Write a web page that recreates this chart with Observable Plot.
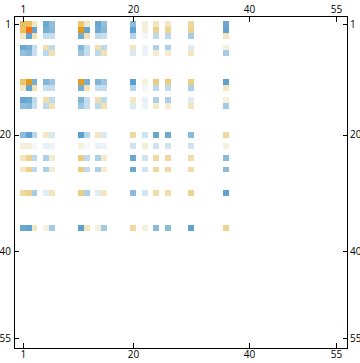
<!DOCTYPE html>
<html>
<head>
<meta charset="utf-8">
<script src="https://cdn.jsdelivr.net/npm/d3@7"></script>
<script src="https://cdn.jsdelivr.net/npm/@observablehq/plot@0.6"></script>
<style>html,body{margin:0;padding:0;background:#fff}svg{display:block}</style>
</head>
<body>
<div id="chart"></div>
<script>
const tickLabels = [1, 20, 40, 55];
const indices = [1, 2, 3, 5, 6, 11, 12, 14, 15, 20, 22, 24, 26, 30, 36];
const row1  = [.40,.38,.09,-.40,-.28,.34,.09,-.42,-.28,-.30,.04,.11,.10,.20,-.40];
const row2  = [.38,1,-.44,-.36,-.31,.60,-.43,-.39,-.31,-.46,.04,.26,.26,.25,-.46];
const row3  = [.09,-.44,.14,-.15,-.14,-.37,.14,-.16,-.14,-.20,-.02,-.17,-.17,-.23,.10];
const row5  = [-.40,-.36,-.15,.16,-.17,-.32,-.145,.16,-.17,.10,-.05,-.22,-.22,-.065,.03];
const row6  = [-.28,-.31,-.14,-.17,.14,-.26,-.145,-.17,.14,-.085,-.04,.07,.055,.11,-.24];
const row11 = [.34,.60,-.37,-.32,-.26,.58,-.36,-.33,-.26,-.50,.03,.30,.30,.29,-.48];
const row12 = [.09,-.43,.14,-.145,-.145,-.36,.13,-.145,-.145,-.20,-.02,-.17,-.16,-.22,.10];
const row14 = [-.42,-.39,-.16,.16,-.17,-.33,-.145,.16,-.17,.10,-.05,-.22,-.22,-.065,.03];
const row15 = [-.28,-.31,-.14,-.17,.14,-.26,-.145,-.17,.14,-.085,-.04,.07,.055,.11,-.24];
const row20 = [-.30,-.46,-.20,.10,-.085,-.50,-.20,.10,-.085,.20,-.12,-.40,-.40,-.30,.20];
const row22 = [.04,.04,-.02,-.05,-.04,.03,-.02,-.05,-.04,-.12,.05,-.11,-.11,-.10,.03];
const row24 = [.11,.26,-.17,-.22,.07,.30,-.17,-.22,.07,-.40,-.11,.20,.20,.17,-.30];
const row26 = [.10,.26,-.17,-.22,.055,.30,-.16,-.22,.055,-.40,-.11,.20,.20,.17,-.30];
const row30 = [.20,.25,-.23,-.065,.11,.29,-.22,-.065,.11,-.30,-.10,.17,.17,.24,-.46];
const row36 = [-.40,-.46,.10,.03,-.24,-.48,.10,.03,-.24,.20,.03,-.30,-.30,-.46,.24];
const rows = [row1,row2,row3,row5,row6,row11,row12,row14,row15,row20,row22,row24,row26,row30,row36];

const colorDomain = [-.5,-.4,-.3,-.2,-.1,-.02,0,.03,.1,.2,.3,.4,.6,1];
const colorRange = ["#5b9ed0","#6ba8d0","#8abbd9","#b4d5ea","#d3e5f2","#f4f8fb","#f8f8f4","#f5f1dc","#f3e6c0","#efd9a0","#eccd80","#e8bb5b","#e39a1a","#fc6d0f"];

const cells = rows.flatMap((r, i) => r.map((v, j) => ({row: indices[i], col: indices[j], v})));
const fontFamily = "'Open Sans', sans-serif";
const axisStyle = {ticks: tickLabels, tickSize: -5, tickPadding: 8, label: null, stroke: "#000", strokeOpacity: 1, fill: "#000", shapeRendering: "crispEdges"};

const chart = Plot.plot({
  width: 360,
  height: 363,
  marginLeft: 13.5,
  marginRight: 13.5,
  marginTop: 15.5,
  marginBottom: 15.5,
  style: {background: "#fff", fontFamily, fontSize: "10px", color: "#000"},
  x: {type: "linear", domain: [-0.63, 56.82], axis: null},
  y: {type: "linear", domain: [-0.515, 56.635], reverse: true, axis: null},
  color: {type: "linear", domain: colorDomain, range: colorRange, clamp: true},
  marks: [
    Plot.rect(cells, {
      x1: d => d.col - 0.5,
      x2: d => d.col + 0.5,
      y1: d => d.row - 0.5,
      y2: d => d.row + 0.5,
      fill: "v",
      shapeRendering: "crispEdges"
    }),
    Plot.frame({stroke: "#000", strokeWidth: 1, strokeOpacity: 1, shapeRendering: "crispEdges"}),
    Plot.axisX({anchor: "top", ...axisStyle}),
    Plot.axisX({anchor: "bottom", ...axisStyle}),
    Plot.axisY({anchor: "left", ...axisStyle}),
    Plot.axisY({anchor: "right", ...axisStyle})
  ]
});
document.getElementById("chart").appendChild(chart);
</script>
</body>
</html>
